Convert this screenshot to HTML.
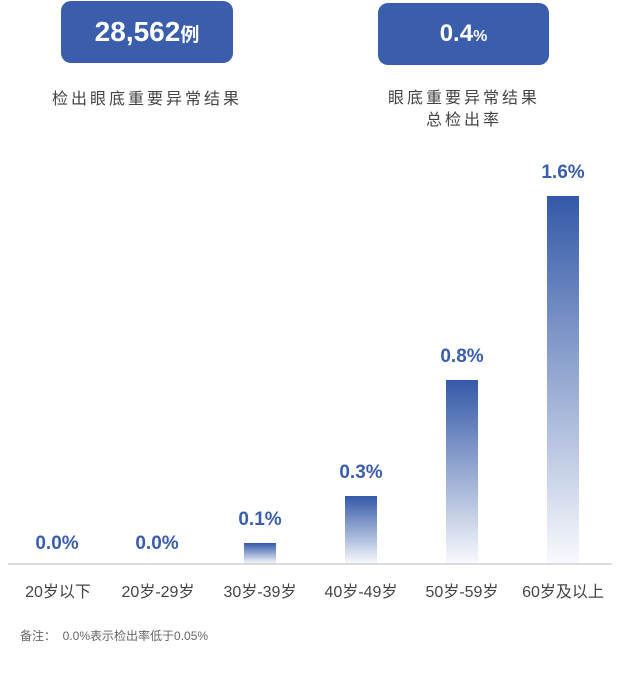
<!DOCTYPE html>
<html><head><meta charset="utf-8"><style>
body{margin:0;width:640px;height:683px;background:#fff;position:relative;overflow:hidden;font-family:"Liberation Sans","Noto Sans CJK SC",sans-serif}
.box{position:absolute;background:#3a5eab;border-radius:10px;color:#fff;font-weight:bold;text-align:center}
.t{position:absolute;text-align:center;white-space:nowrap}
.bar{position:absolute;width:32px;background:linear-gradient(to bottom,#3459a8,rgba(52,89,168,0.03))}
.v{position:absolute;width:80px;text-align:center;color:#3a5eab;font-weight:bold;font-size:19px}
.c{position:absolute;width:100px;text-align:center;color:#444;font-size:16px;top:578px}
</style></head><body>
<div class="box" style="left:61px;top:1px;width:172px;height:62px;line-height:62px;font-size:28px">28,562<span style="font-size:19px">例</span></div>
<div class="box" style="left:378px;top:3px;width:171px;height:62px;line-height:62px;font-size:24px">0.4<span style="font-size:16px">%</span></div>
<div class="t" style="left:0;width:294px;top:85px;font-size:16px;letter-spacing:3px;color:#444">检出眼底重要异常结果</div>
<div class="t" style="left:316px;width:296px;top:88px;font-size:16px;letter-spacing:3px;color:#444;line-height:22px">眼底重要异常结果<br>总检出率</div>
<div style="position:absolute;left:8px;top:563px;width:604px;height:2px;background:#ddd"></div>
<div class="bar" style="left:244px;top:543px;height:21px"></div>
<div class="bar" style="left:345px;top:496px;height:68px"></div>
<div class="bar" style="left:446px;top:380px;height:184px"></div>
<div class="bar" style="left:547px;top:196px;height:368px"></div>
<div class="v" style="left:17px;top:533px">0.0%</div>
<div class="v" style="left:117px;top:533px">0.0%</div>
<div class="v" style="left:220px;top:509px">0.1%</div>
<div class="v" style="left:321px;top:462px">0.3%</div>
<div class="v" style="left:422px;top:346px">0.8%</div>
<div class="v" style="left:523px;top:162px">1.6%</div>
<div class="c" style="left:8px">20岁以下</div>
<div class="c" style="left:108px">20岁-29岁</div>
<div class="c" style="left:210px">30岁-39岁</div>
<div class="c" style="left:311px">40岁-49岁</div>
<div class="c" style="left:412px">50岁-59岁</div>
<div class="c" style="left:513px">60岁及以上</div>
<div class="t" style="left:20px;top:627px;font-size:12px;color:#666">备注：&nbsp;&nbsp;0.0%表示检出率低于0.05%</div>
</body></html>
